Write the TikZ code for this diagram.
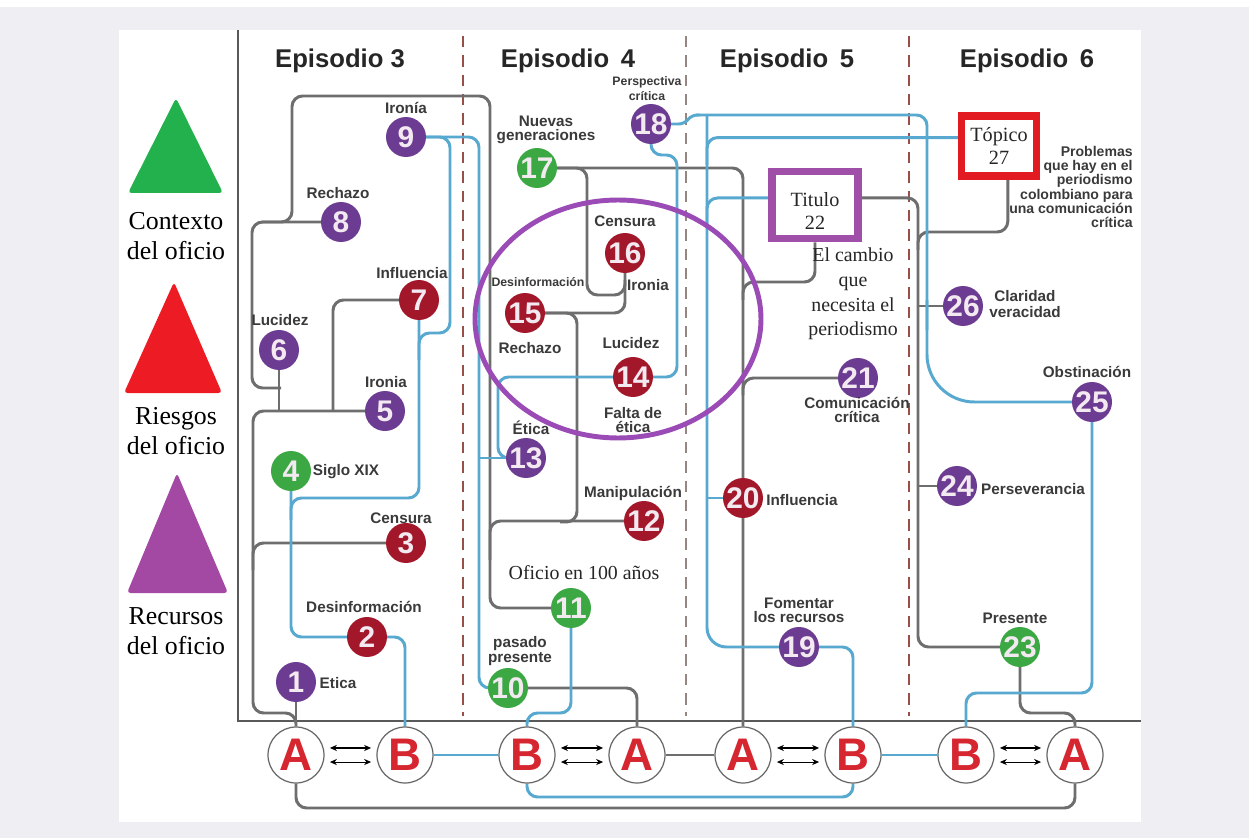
\documentclass[tikz,border=0pt]{standalone}
\usepackage{fontspec}
\setmainfont{Liberation Serif}
\setsansfont{Liberation Sans}
\usetikzlibrary{backgrounds,arrows.meta}
\definecolor{metrogray}{HTML}{6E6E6E}
\definecolor{metroblue}{HTML}{58A9CF}
\definecolor{stpurple}{HTML}{6C3B92}
\definecolor{stred}{HTML}{A3172B}
\definecolor{stgreen}{HTML}{3BA843}
\definecolor{legreen}{HTML}{22B14C}
\definecolor{lered}{HTML}{ED1C24}
\definecolor{lepurple}{HTML}{A349A4}
\definecolor{ringpurple}{HTML}{9B4BB6}
\definecolor{boxpurple}{HTML}{A04FA8}
\definecolor{boxred}{HTML}{E21B23}
\definecolor{abred}{HTML}{D62630}
\definecolor{sepbrown}{HTML}{9A4E48}
\definecolor{sepgray}{HTML}{968682}
\definecolor{panelgray}{HTML}{EFEFF3}
\definecolor{labeltext}{HTML}{3A3A3A}
\definecolor{numtext}{HTML}{F3E9F0}
\tikzset{
  gline/.style={metrogray, line width=1.7pt, rounded corners=6pt},
  bline/.style={metroblue, line width=1.7pt, rounded corners=6pt},
  stn/.style={circle, minimum size=0.8cm, inner sep=0pt, text=numtext,
    font=\sffamily\bfseries\fontsize{17}{17}\selectfont},
  pstn/.style={stn, fill=stpurple},
  rstn/.style={stn, fill=stred},
  gstn/.style={stn, fill=stgreen},
  abnode/.style={circle, draw=gray!80!black, line width=0.7pt, fill=white,
    minimum size=1.12cm, inner sep=0pt, text=abred,
    font=\sffamily\bfseries\fontsize{26}{26}\selectfont},
  lbl/.style={inner sep=0pt, align=center, text=labeltext,
    font=\sffamily\bfseries\fontsize{8.7}{8}\selectfont},
  smalllbl/.style={lbl, font=\sffamily\bfseries\fontsize{7}{8.5}\selectfont},
  seriflbl/.style={inner sep=0pt, align=center, text=black!85,
    font=\fontsize{11.3}{14}\selectfont},
  titlebox/.style={fill=white, inner sep=0pt, align=center, text=black!85,
    font=\fontsize{11.5}{13}\selectfont},
  episode/.style={inner sep=0pt, anchor=base, text=black!85,
    font=\sffamily\bfseries\fontsize{14.6}{16}\selectfont},
  legendtxt/.style={inner sep=0pt, align=center,
    font=\fontsize{14.7}{17}\selectfont},
  twoway/.style={{Stealth[length=4pt,width=3.5pt]}-{Stealth[length=4pt,width=3.5pt]},
    line width=0.6pt, black},
  sepline/.style={line width=1.4pt, dash pattern=on 6.5pt off 4.5pt},
}
\begin{document}
\begin{tikzpicture}[x=0.02cm, y=-0.02cm]
\useasboundingbox (0,0) rectangle (1249,838);

% legend
\fill[legreen, rounded corners=2pt] (176,98) -- (223,193) -- (128,193) -- cycle;
\fill[lered, rounded corners=2pt] (174,282) -- (222,393) -- (124,393) -- cycle;
\fill[lepurple, rounded corners=2pt] (177,473) -- (228,593) -- (127,593) -- cycle;
\node[legendtxt] (leg1) at (176,236) {Contexto\\del oficio};
\node[legendtxt] (leg2) at (176,431) {Riesgos\\del oficio};
\node[legendtxt] (leg3) at (176,631) {Recursos\\del oficio};

% episodes
\node[episode] (ep3) at (340,68) {Episodio 3};
\node[episode] (ep4) at (568,68) {Episodio\hspace{0.45em}4};
\node[episode] (ep5) at (787,68) {Episodio\hspace{0.45em}5};
\node[episode] (ep6) at (1027,68) {Episodio\hspace{0.45em}6};

% stations
\node[pstn] (s1) at (296,682) {1};
\node[rstn] (s2) at (367,637) {2};
\node[rstn] (s3) at (406,543) {3};
\node[gstn] (s4) at (291,471) {4};
\node[pstn] (s5) at (385,411) {5};
\node[pstn] (s6) at (279,350) {6};
\node[rstn] (s7) at (419,300) {7};
\node[pstn] (s8) at (341,222) {8};
\node[pstn] (s9) at (406,137) {9};
\node[gstn] (s10) at (508,688) {10};
\node[gstn] (s11) at (571,608) {11};
\node[rstn] (s12) at (644,521) {12};
\node[pstn] (s13) at (526,458) {13};
\node[rstn] (s14) at (633,377) {14};
\node[rstn] (s15) at (525,313) {15};
\node[rstn] (s16) at (625,253) {16};
\node[gstn] (s17) at (537,168) {17};
\node[pstn] (s18) at (651,124) {18};
\node[pstn] (s19) at (799,647) {19};
\node[rstn] (s20) at (743,498) {20};
\node[pstn] (s21) at (858,378) {21};
\node[gstn] (s23) at (1020,647) {23};
\node[pstn] (s24) at (957,486) {24};
\node[pstn] (s25) at (1092,402) {25};
\node[pstn] (s26) at (963,306) {26};
\node[titlebox, draw=boxpurple, line width=4.5pt, minimum width=1.72cm, minimum height=1.34cm] (t22) at (815,205) {\rule{0pt}{15pt}Titulo\\22};
\node[titlebox, draw=boxred, line width=4pt, minimum width=1.5cm, minimum height=1.2cm] (t27) at (999,146) {Tópico\\27};

% A and B
\node[abnode] (a1) at (296,755) {A};
\node[abnode] (b1) at (405,755) {B};
\node[abnode] (b2) at (527,755) {B};
\node[abnode] (a2) at (637,755) {A};
\node[abnode] (a3) at (743,755) {A};
\node[abnode] (b3) at (853,755) {B};
\node[abnode] (b4) at (966,755) {B};
\node[abnode] (a4) at (1075,755) {A};
\foreach \l/\r in {a1/b1,b2/a2,a3/b3,b4/a4} {
  \draw[twoway] ([xshift=3pt,yshift=4pt]\l.east) -- ([xshift=-3pt,yshift=4pt]\r.west);
  \draw[twoway] ([xshift=3pt,yshift=-4pt]\l.east) -- ([xshift=-3pt,yshift=-4pt]\r.west);
}

% labels
\node[lbl] (l9) at (406,108) {Ironía};
\node[lbl] (l8) at (338,193) {Rechazo};
\node[lbl] (l7) at (412,273) {Influencia};
\node[lbl] (l6) at (280,320) {Lucidez};
\node[lbl] (l5) at (386,382) {Ironia};
\node[lbl] (l4) at (346,472) {Siglo XIX};
\node[lbl] (l3) at (401,518) {Censura};
\node[lbl] (l2) at (364,607) {Desinformación};
\node[lbl] (l1) at (338,683) {Etica};
\node[lbl] (l17) at (546,130) {Nuevas\\generaciones};
\node[smalllbl] (l18) at (647,89) {Perspectiva\\crítica};
\node[lbl] (l16) at (625,221) {Censura};
\node[lbl] (l16b) at (648,285) {Ironia};
\node[smalllbl] (l15) at (538,282) {Desinformación};
\node[lbl] (l15b) at (530,348) {Rechazo};
\node[lbl] (l14) at (631,343) {Lucidez};
\node[lbl] (l14b) at (633,420) {Falta de\\ética};
\node[lbl] (l13) at (531,428) {Ética};
\node[lbl] (l12) at (633,493) {Manipulación};
\node[seriflbl] (l11) at (584,573) {Oficio en 100 años};
\node[lbl, font=\sffamily\bfseries\fontsize{8.7}{7}\selectfont] (l10) at (520,651) {pasado\\presente};
\node[lbl] (l19) at (799,610) {Fomentar\\los recursos};
\node[lbl] (l20) at (802,500) {Influencia};
\node[lbl] (l21) at (857,410) {Comunicación\\crítica};
\node[seriflbl] (l22) at (853,294) {El cambio\\que\\necesita el\\periodismo};
\node[lbl] (l23) at (1015,618) {Presente};
\node[lbl] (l24) at (1033,489) {Perseverancia};
\node[lbl] (l25) at (1087,372) {Obstinación};
\node[lbl, font=\sffamily\bfseries\fontsize{8.7}{9.6}\selectfont] (l26) at (1025,304) {Claridad\\veracidad};
\node[lbl, align=right, anchor=east, font=\sffamily\bfseries\fontsize{8}{8}\selectfont] (l27) at (1133,187)
  {Problemas\\que hay en el\\periodismo\\colombiano para\\una comunicación\\crítica};

% ring
\draw[ringpurple, line width=2.8pt] (618,319) ellipse [x radius=2.86cm, y radius=2.38cm];

\begin{pgfonlayer}{background}
  \fill[white] (0,0) rectangle (1249,838);
  \fill[panelgray] (0,7) rectangle (1249,838);
  \fill[white] (119,30) rectangle (1141,822);
  \draw[black!65, line width=0.85pt] (238,30) -- (238,721) -- (1141,721);
  \foreach \x/\c in {463/sepbrown,686/sepgray,909/sepbrown}
    \draw[sepline, \c] (\x,36) -- (\x,716);
  % gray lines
  \draw[gline] (262,222) -- (292,222) -- (292,96) -- (490,96) -- (490,608) -- (s11.center);
  \draw[gline] (s8.center) -- (252,222) -- (252,388) -- (281,388);
  \draw[gline] (s6.center) -- (279,411);
  \draw[gline] (s5.center) -- (253,411) -- (253,713) -- (296,713) -- (a1.north);
  \draw[gline] (s7.center) -| (333,411);
  \draw[gline] (s3.center) -| (253,570);
  \draw[gline] (s1.center) -- (a1.north);
  \draw[gline] (s12.center) -| (490,560);
  \draw[gline] (s15.center) -| (577,522) -- (560,522);
  \draw[gline] (s15.center) -| (s16.center);
  \draw[gline] (s17.center) -| (587,295) -- (625,295) -- (625,280);
  \draw[gline] (s17.center) -| (a3.north);
  \draw[gline] (s10.center) -| (a2.north);
  \draw[gline] (s21.center) -| (743,395);
  \draw[gline] (t22.south) |- (743,282) -- (743,300);
  \draw[gline] ([yshift=4pt]t22.east) -| (918,647) -- (s23.center);
  \draw[gline] (s23.center) |- (1075,713) -- (a4.north);
  \draw[gline] (918,306) -- (s26.center);
  \draw[gline] (918,486) -- (s24.center);
  \draw[gline] ([xshift=5pt]t27.south) |- (918,232) -- (918,250);
  \draw[gline] (a1.south) |- (1075,808) -- (a4.south);
  \draw[gline] (a2.east) -- (a3.west);
  % blue lines
  \draw[bline] (b1.north) |- (291,637) -- (s4.center);
  \draw[bline] (s7.center) |- (291,498) -- (291,520);
  \draw[bline] (s9.center) -| (450,333) -| (419,360);
  \draw[bline] (s9.center) -| (479,688) -- (s10.center);
  \draw[bline] (479,458) -- (s13.center);
  \draw[bline] (s18.center) -- (651,155) -| (677,377) -- (s14.center);
  \draw[bline] (s14.center) -| (498,458) -- (s13.center);
  \draw[bline] (s11.center) |- (527,713) -- (b2.north);
  \draw[bline, rounded corners=3pt] (s18.center) -- (684,124) -- (692,115) -- (700,115);
  \draw[bline] (696,115) -- (927,115) -- (927,330);
  \draw[bline, rounded corners=27pt] (927,300) |- (s25.center);
  \draw[bline] (s25.center) |- (966,693) -- (b4.north);
  \draw[bline, rounded corners=11pt] (707,115) |- (s19.center);
  \draw[bline] (s19.center) -| (b3.north);
  \draw[bline] (707,165) |- ([yshift=4.8pt]t27.west);
  \draw[bline] (707,225) |- ([yshift=4pt]t22.west);
  \draw[bline] (707,498) -- (s20.center);
  \draw[bline] (b1.east) -- (b2.west);
  \draw[bline] (b3.east) -- (b4.west);
  \draw[bline] (b2.south) |- (853,797) -- (b3.south);
\end{pgfonlayer}
\end{tikzpicture}
\end{document}
